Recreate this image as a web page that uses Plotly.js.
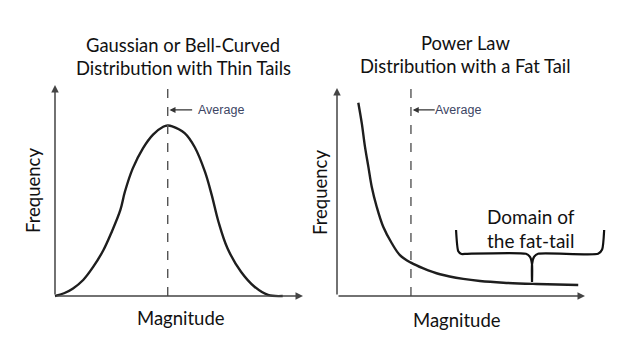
<!DOCTYPE html>
<html>
<head>
<meta charset="utf-8">
<script src="https://cdn.plot.ly/plotly-3.0.1.min.js"></script>
<style>html,body{margin:0;padding:0;background:#fff;}#chart{width:628px;height:351px;}</style>
</head>
<body>
<div id="chart"></div>
<script>
// Left panel: Gaussian (bell-curved) distribution
var gaussMagnitude = [0, 0.4, 0.8, 1.25, 1.7, 2.15, 2.5, 2.9, 3.1, 3.45, 3.9, 4.35, 4.8, 5.0, 5.2, 5.75, 6.2, 6.65, 6.95, 7.25, 7.65, 8.25, 8.85, 9.45, 10.1];
var gaussFrequency = [0, 0.13, 0.36, 0.76, 1.39, 2.18, 3.0, 4.08, 4.94, 6.05, 7.0, 7.65, 8.02, 8.08, 8.04, 7.72, 7.05, 5.89, 4.79, 3.52, 2.26, 1.15, 0.44, 0.05, 0];
var gaussAverage = 5.0;

// Right panel: power law distribution with a fat tail
var powerMagnitude = [0.945, 1.1, 1.24, 1.39, 1.54, 1.76, 2.05, 2.43, 2.79, 3.28, 3.83, 4.57, 5.6, 6.34, 7.38, 8.86, 10.7];
var powerFrequency = [9.16, 8.18, 7.08, 6.13, 5.18, 4.23, 3.28, 2.5, 1.94, 1.58, 1.31, 1.03, 0.81, 0.71, 0.63, 0.57, 0.52];
var powerAverage = 3.28;

// Brace marking the domain of the fat tail (right panel units)
var braceX = [5.28, 5.38, 5.52, 5.77, 8.38, 8.56, 8.65, 8.65, 8.65, 8.74, 8.92, 11.58, 11.76, 11.85];
var braceY = [3.13, 2.12, 1.99, 2.0, 2.0, 1.85, 1.5, 0.66, 1.5, 1.85, 2.0, 2.0, 2.2, 3.13];

var titles = ["Gaussian or Bell-Curved", "Distribution with Thin Tails", "Power Law", "Distribution with a Fat Tail"];
var axisLabelX = "Magnitude";
var axisLabelY = "Frequency";
var averageLabel = "Average";
var braceLabel = ["Domain of", "the fat-tail"];

var FONT = "Lato, 'Open Sans', sans-serif";
var curveColor = "#1e1e1e";

var traces = [
  {x: gaussMagnitude, y: gaussFrequency, xaxis: "x", yaxis: "y", mode: "lines",
   line: {color: curveColor, width: 2.4, shape: "spline", smoothing: 1}, hoverinfo: "skip"},
  {x: [gaussAverage, gaussAverage], y: [0, 10.1], xaxis: "x", yaxis: "y", mode: "lines",
   line: {color: "#555", width: 1.4, dash: "dash"}, hoverinfo: "skip"},
  {x: powerMagnitude, y: powerFrequency, xaxis: "x2", yaxis: "y2", mode: "lines",
   line: {color: curveColor, width: 2.4, shape: "spline", smoothing: 1}, hoverinfo: "skip"},
  {x: [powerAverage, powerAverage], y: [0, 10.1], xaxis: "x2", yaxis: "y2", mode: "lines",
   line: {color: "#555", width: 1.4, dash: "dash"}, hoverinfo: "skip"},
  {x: braceX, y: braceY, xaxis: "x2", yaxis: "y2", mode: "lines",
   line: {color: "#111", width: 2.2, shape: "spline", smoothing: 0.6}, hoverinfo: "skip"}
];

function hidden(extra) {
  return Object.assign({visible: true, showgrid: false, zeroline: false, showline: false,
    showticklabels: false, ticks: "", fixedrange: true}, extra);
}

function axisArrow(xr, yr, x, y) {
  return {xref: xr, yref: yr, axref: xr, ayref: yr, x: x, y: y, ax: 0, ay: 0, text: "",
    showarrow: true, arrowhead: 2, arrowsize: 1, arrowwidth: 1.5, arrowcolor: "#444", standoff: 0};
}
function avgArrow(xr, yr, headX, tailX, y) {
  return {xref: xr, yref: yr, axref: xr, ayref: yr, x: headX, y: y, ax: tailX, ay: y, text: "",
    showarrow: true, arrowhead: 2, arrowsize: 1, arrowwidth: 1.2, arrowcolor: "#333", standoff: 0};
}
function paperText(txt, x, y, size, angle) {
  return {xref: "paper", yref: "paper", x: x, y: y, text: txt, showarrow: false,
    xanchor: "center", yanchor: "middle", textangle: angle || 0,
    font: {family: FONT, size: size, color: "#111"}};
}

var annotations = [
  axisArrow("x", "y", 11.0, 0), axisArrow("x", "y", 0, 10.0),
  axisArrow("x2", "y2", 11.0, 0), axisArrow("x2", "y2", 0, 9.86),
  avgArrow("x", "y", gaussAverage + 0.08, 6.15, 8.82),
  avgArrow("x2", "y2", powerAverage + 0.08, 4.4, 8.82),
  {xref: "x", yref: "y", x: 6.25, y: 8.82, text: averageLabel, showarrow: false, xanchor: "left",
   yanchor: "middle", font: {family: "Liberation Sans, Arial, sans-serif", size: 12.5, color: "#3c4563"}},
  {xref: "x2", yref: "y2", x: 4.25, y: 8.82, text: averageLabel, showarrow: false, xanchor: "left",
   yanchor: "middle", font: {family: "Liberation Sans, Arial, sans-serif", size: 12.5, color: "#3c4563"}},
  paperText(titles[0], 183 / 628, 1 - 45 / 351, 18.4),
  paperText(titles[1], 183 / 628, 1 - 68 / 351, 18.4),
  paperText(titles[2], 465 / 628, 1 - 43 / 351, 18.4),
  paperText(titles[3], 465 / 628, 1 - 66 / 351, 18.4),
  paperText(axisLabelY, 33 / 628, 1 - 191 / 351, 18.5, -90),
  paperText(axisLabelY, 320 / 628, 1 - 193 / 351, 18.5, -90),
  paperText(axisLabelX, 181 / 628, 1 - 318 / 351, 18.5),
  paperText(axisLabelX, 457 / 628, 1 - 320 / 351, 18.5),
  paperText(braceLabel[0], 531 / 628, 1 - 216 / 351, 19),
  paperText(braceLabel[1], 530 / 628, 1 - 240 / 351, 19)
];

var layout = {
  width: 628, height: 351,
  margin: {l: 0, r: 0, t: 0, b: 0},
  paper_bgcolor: "#ffffff", plot_bgcolor: "rgba(0,0,0,0)",
  showlegend: false,
  xaxis: hidden({domain: [0.07681, 0.48965], range: [-0.3, 11.2]}),
  yaxis: hidden({domain: [0.13866, 0.76986], range: [-0.3, 10.2]}),
  xaxis2: hidden({domain: [0.52586, 0.97101], range: [-0.3, 12.1]}),
  yaxis2: hidden({domain: [0.13866, 0.76986], range: [-0.3, 10.2]}),
  annotations: annotations
};

Plotly.newPlot("chart", traces, layout, {staticPlot: true, displayModeBar: false});
</script>
</body>
</html>
